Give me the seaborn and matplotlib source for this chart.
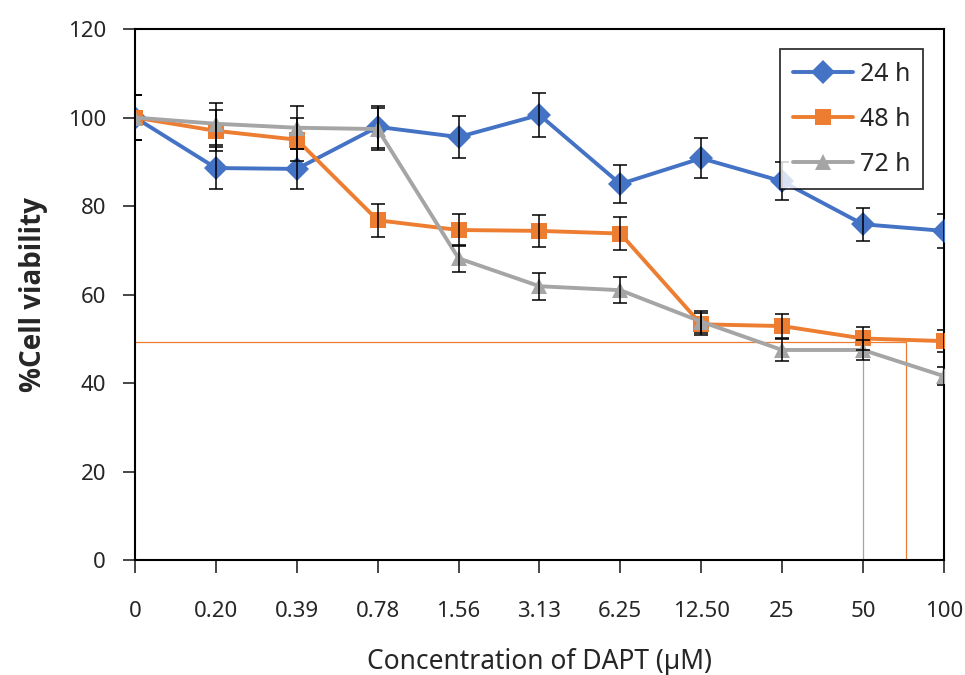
import matplotlib
matplotlib.use("Agg")
import matplotlib.pyplot as plt
import seaborn as sns
import pandas as pd
import numpy as np

# concentrations of DAPT (uM), plotted as evenly spaced categories
conc_labels = ["0", "0.20", "0.39", "0.78", "1.56", "3.13", "6.25", "12.50", "25", "50", "100"]
times = ["24 h", "48 h", "72 h"]

viab_24h = [100, 88.6, 88.4, 97.9, 95.6, 100.6, 85.0, 90.8, 85.6, 75.9, 74.4]
viab_48h = [100, 97.0, 95.0, 76.8, 74.6, 74.4, 73.8, 53.3, 52.9, 50.1, 49.5]
viab_72h = [100, 98.6, 97.7, 97.4, 68.2, 61.9, 61.0, 53.9, 47.5, 47.5, 41.6]

sd_24h = [5.0, 4.7, 4.6, 4.8, 4.7, 4.9, 4.2, 4.5, 4.3, 3.7, 3.8]
sd_48h = [5.0, 4.6, 4.8, 3.7, 3.7, 3.6, 3.7, 2.5, 2.7, 2.5, 2.4]
sd_72h = [5.0, 4.8, 4.9, 4.8, 3.0, 3.1, 2.9, 2.5, 2.4, 2.3, 2.0]

# IC50 guide lines
ic50_level = 49.4
ic50_48h_pos = 9.53
ic50_72h_pos = 9.0

colors = {"24 h": "#4472C4", "48 h": "#ED7D31", "72 h": "#A5A5A5"}
markers = {"24 h": "D", "48 h": "s", "72 h": "^"}

pos = np.arange(len(conc_labels))
df = pd.DataFrame({
    "pos": np.tile(pos, 3),
    "viability": viab_24h + viab_48h + viab_72h,
    "sd": sd_24h + sd_48h + sd_72h,
    "time": np.repeat(times, len(pos)),
})

sns.set_style("white")
plt.rcParams["font.family"] = ["Noto Sans", "DejaVu Sans"]

fig = plt.figure(figsize=(9.65, 6.75), dpi=100)
ax = fig.add_axes([0.14, 0.17, 0.838, 0.787])

# guide lines for IC50
ax.plot([0, ic50_48h_pos], [ic50_level, ic50_level], color=colors["48 h"], lw=0.9, zorder=1)
ax.plot([ic50_48h_pos, ic50_48h_pos], [0, ic50_level], color=colors["48 h"], lw=0.9, zorder=1)
ax.plot([ic50_72h_pos, ic50_72h_pos], [0, viab_72h[9]], color=colors["72 h"], lw=0.9, zorder=1)

sns.lineplot(data=df, x="pos", y="viability", hue="time", style="time",
             palette=colors, markers=markers, dashes=False, lw=2.8,
             markersize=12, markeredgewidth=0, ax=ax, zorder=3)

for t in times:
    sub = df[df["time"] == t]
    ax.errorbar(sub["pos"], sub["viability"], yerr=sub["sd"], fmt="none",
                ecolor="black", elinewidth=1.1, capsize=5, capthick=1.1, zorder=4)

ax.set_xlim(0, 10)
ax.set_ylim(0, 120)
ax.set_yticks(range(0, 121, 20))
ax.set_xticks(pos)
ax.set_xticklabels(conc_labels)
ax.tick_params(axis="y", direction="out", length=9, width=1.2, labelsize=16, pad=12, left=True)
ax.tick_params(axis="x", direction="out", length=9, width=1.2, labelsize=16, pad=20, bottom=True)
for s in ax.spines.values():
    s.set_color("black")
    s.set_linewidth(1.5)

ax.set_xlabel("Concentration of DAPT (\u00b5M)", fontsize=19, labelpad=19)
ax.set_ylabel("%Cell viability", fontsize=20, fontweight="bold", family="Open Sans", labelpad=14)

leg = ax.legend(loc="upper right", bbox_to_anchor=(0.99, 0.985), fontsize=18,
                frameon=True, fancybox=False, edgecolor="black", handlelength=2.4,
                handletextpad=0.3, borderpad=0.5, labelspacing=0.8)
leg.get_frame().set_linewidth(1.3)
for h in leg.legend_handles:
    h.set_linewidth(2.8)
    h.set_markersize(12)

fig.savefig("out.png", dpi=100)
